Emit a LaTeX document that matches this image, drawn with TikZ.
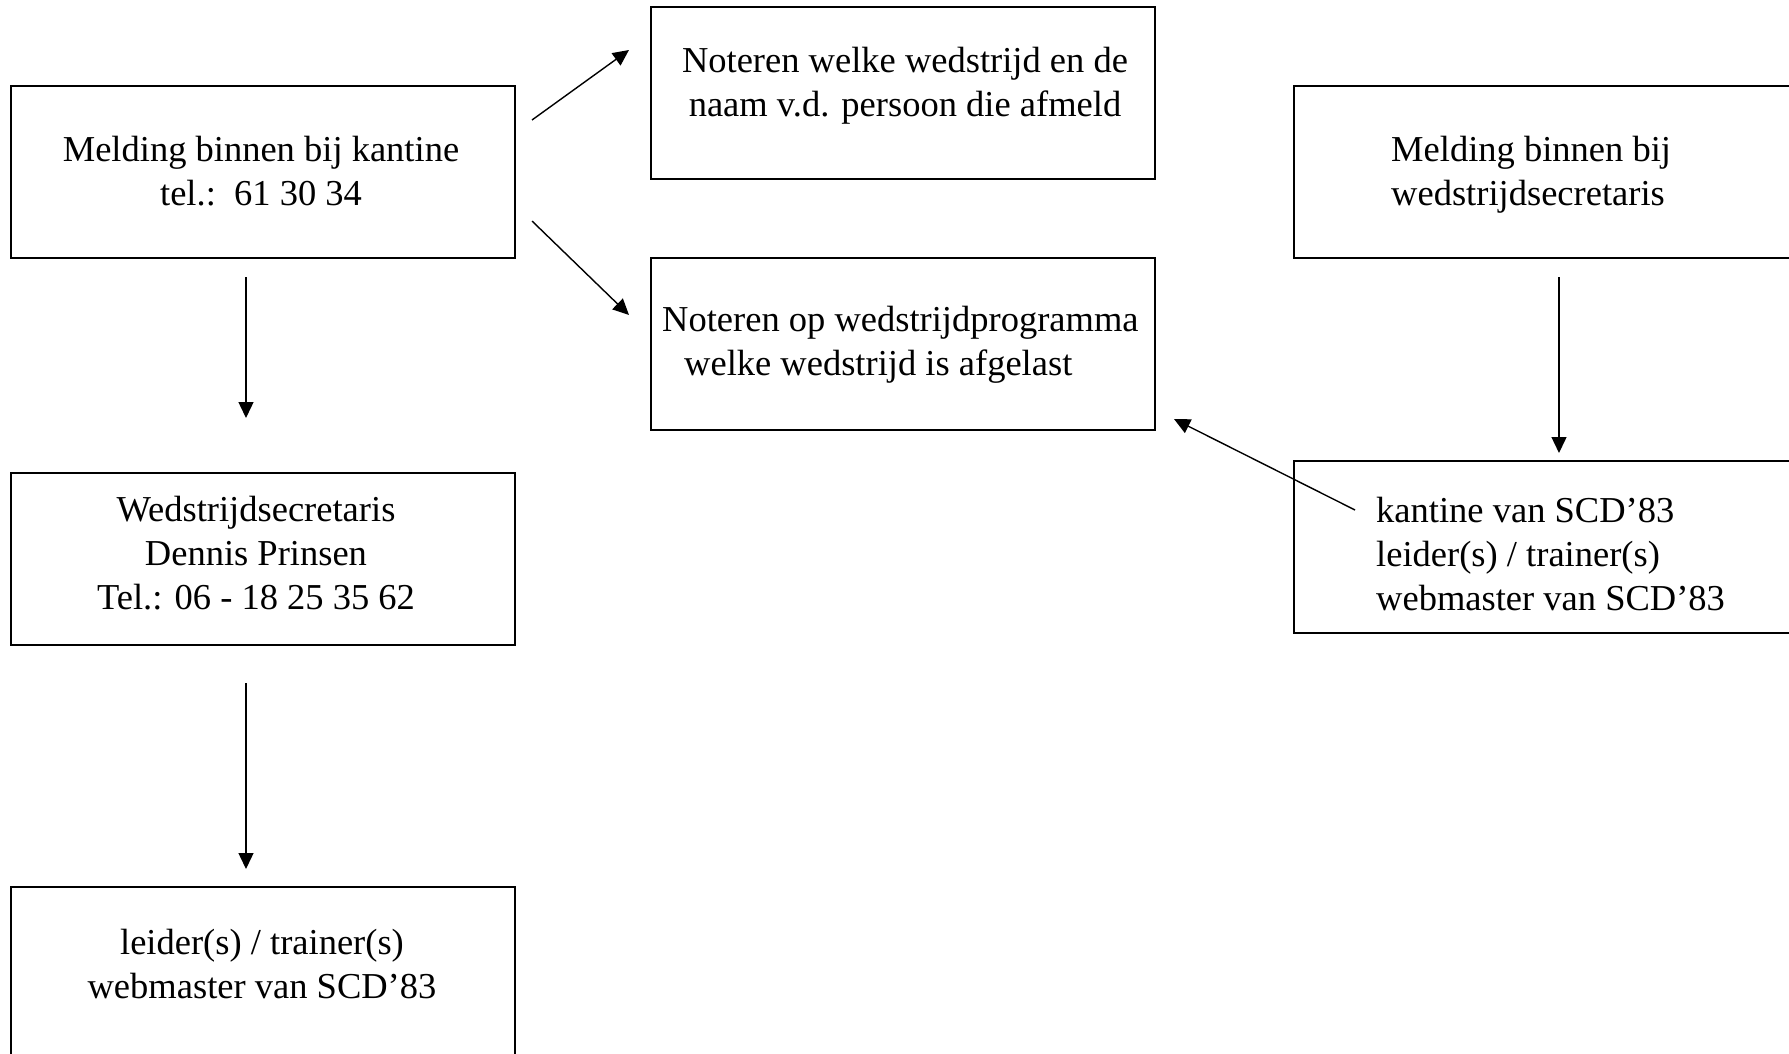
\documentclass[tikz,border=0pt]{standalone}
\usepackage{fontspec}
\setmainfont{Liberation Serif}
\usetikzlibrary{arrows.meta}
\begin{document}
\begin{tikzpicture}[x=1pt,y=-1pt,
  box/.style={draw, line width=2pt, minimum width=504pt, minimum height=172pt, inner sep=0pt},
  txt/.style={inner sep=0pt, font=\fontsize{36.5}{44}\selectfont},
  arr/.style={line width=1.4pt, -{Triangle[length=16pt,width=15pt]}}]
\useasboundingbox (0,0) rectangle (1789,1053);
% boxes
\node[box] (A) at (263,172) {};
\node[box] (B) at (902.5,93) {};
\node[box] (C) at (902.5,344) {};
\node[box] (D) at (1546,172) {};
\node[box] (E) at (1546,547) {};
\node[box] (F) at (263,558.5) {};
\node[box] (G) at (263,973) {};
% texts
\node[txt, align=center] (tA) at (261,175) {\strut Melding binnen bij kantine\\\strut tel.:~~61 30 34};
\node[txt, align=center] (tB) at (905,86) {\strut Noteren welke wedstrijd en de\\\strut naam v.d. persoon die afmeld};
\node[txt, align=left, anchor=west] (tC) at (662,345) {\strut Noteren op wedstrijdprogramma\\\strut\hspace*{22pt}welke wedstrijd is afgelast};
\node[txt, align=left, anchor=west] (tD) at (1391,175) {\strut Melding binnen bij\\\strut wedstrijdsecretaris};
\node[txt, align=left, anchor=west] (tE) at (1376,558) {\strut kantine van SCD’83\\\strut leider(s) / trainer(s)\\\strut webmaster van SCD’83};
\node[txt, align=center] (tF) at (256,557) {\strut Wedstrijdsecretaris\\\strut Dennis Prinsen\\\strut Tel.: 06 - 18 25 35 62};
\node[txt, align=center] (tG) at (262,968) {\strut leider(s) / trainer(s)\\\strut webmaster van SCD’83};
% connector ends
\coordinate (ab0) at (532,120);
\coordinate (ab1) at (629,50);
\coordinate (ac0) at (532,221);
\coordinate (ac1) at (629,315);
\coordinate (af0) at (246,277);
\coordinate (af1) at (246,418);
\coordinate (fg0) at (246,683);
\coordinate (fg1) at (246,869);
\coordinate (de0) at (1559,277);
\coordinate (de1) at (1559,453);
\coordinate (ec0) at (1355,510);
\coordinate (ec1) at (1174,419);
\draw[arr] (ab0) -- (ab1);
\draw[arr] (ac0) -- (ac1);
\draw[arr] (af0) -- (af1);
\draw[arr] (fg0) -- (fg1);
\draw[arr] (de0) -- (de1);
\draw[arr] (ec0) -- (ec1);
\end{tikzpicture}
\end{document}
